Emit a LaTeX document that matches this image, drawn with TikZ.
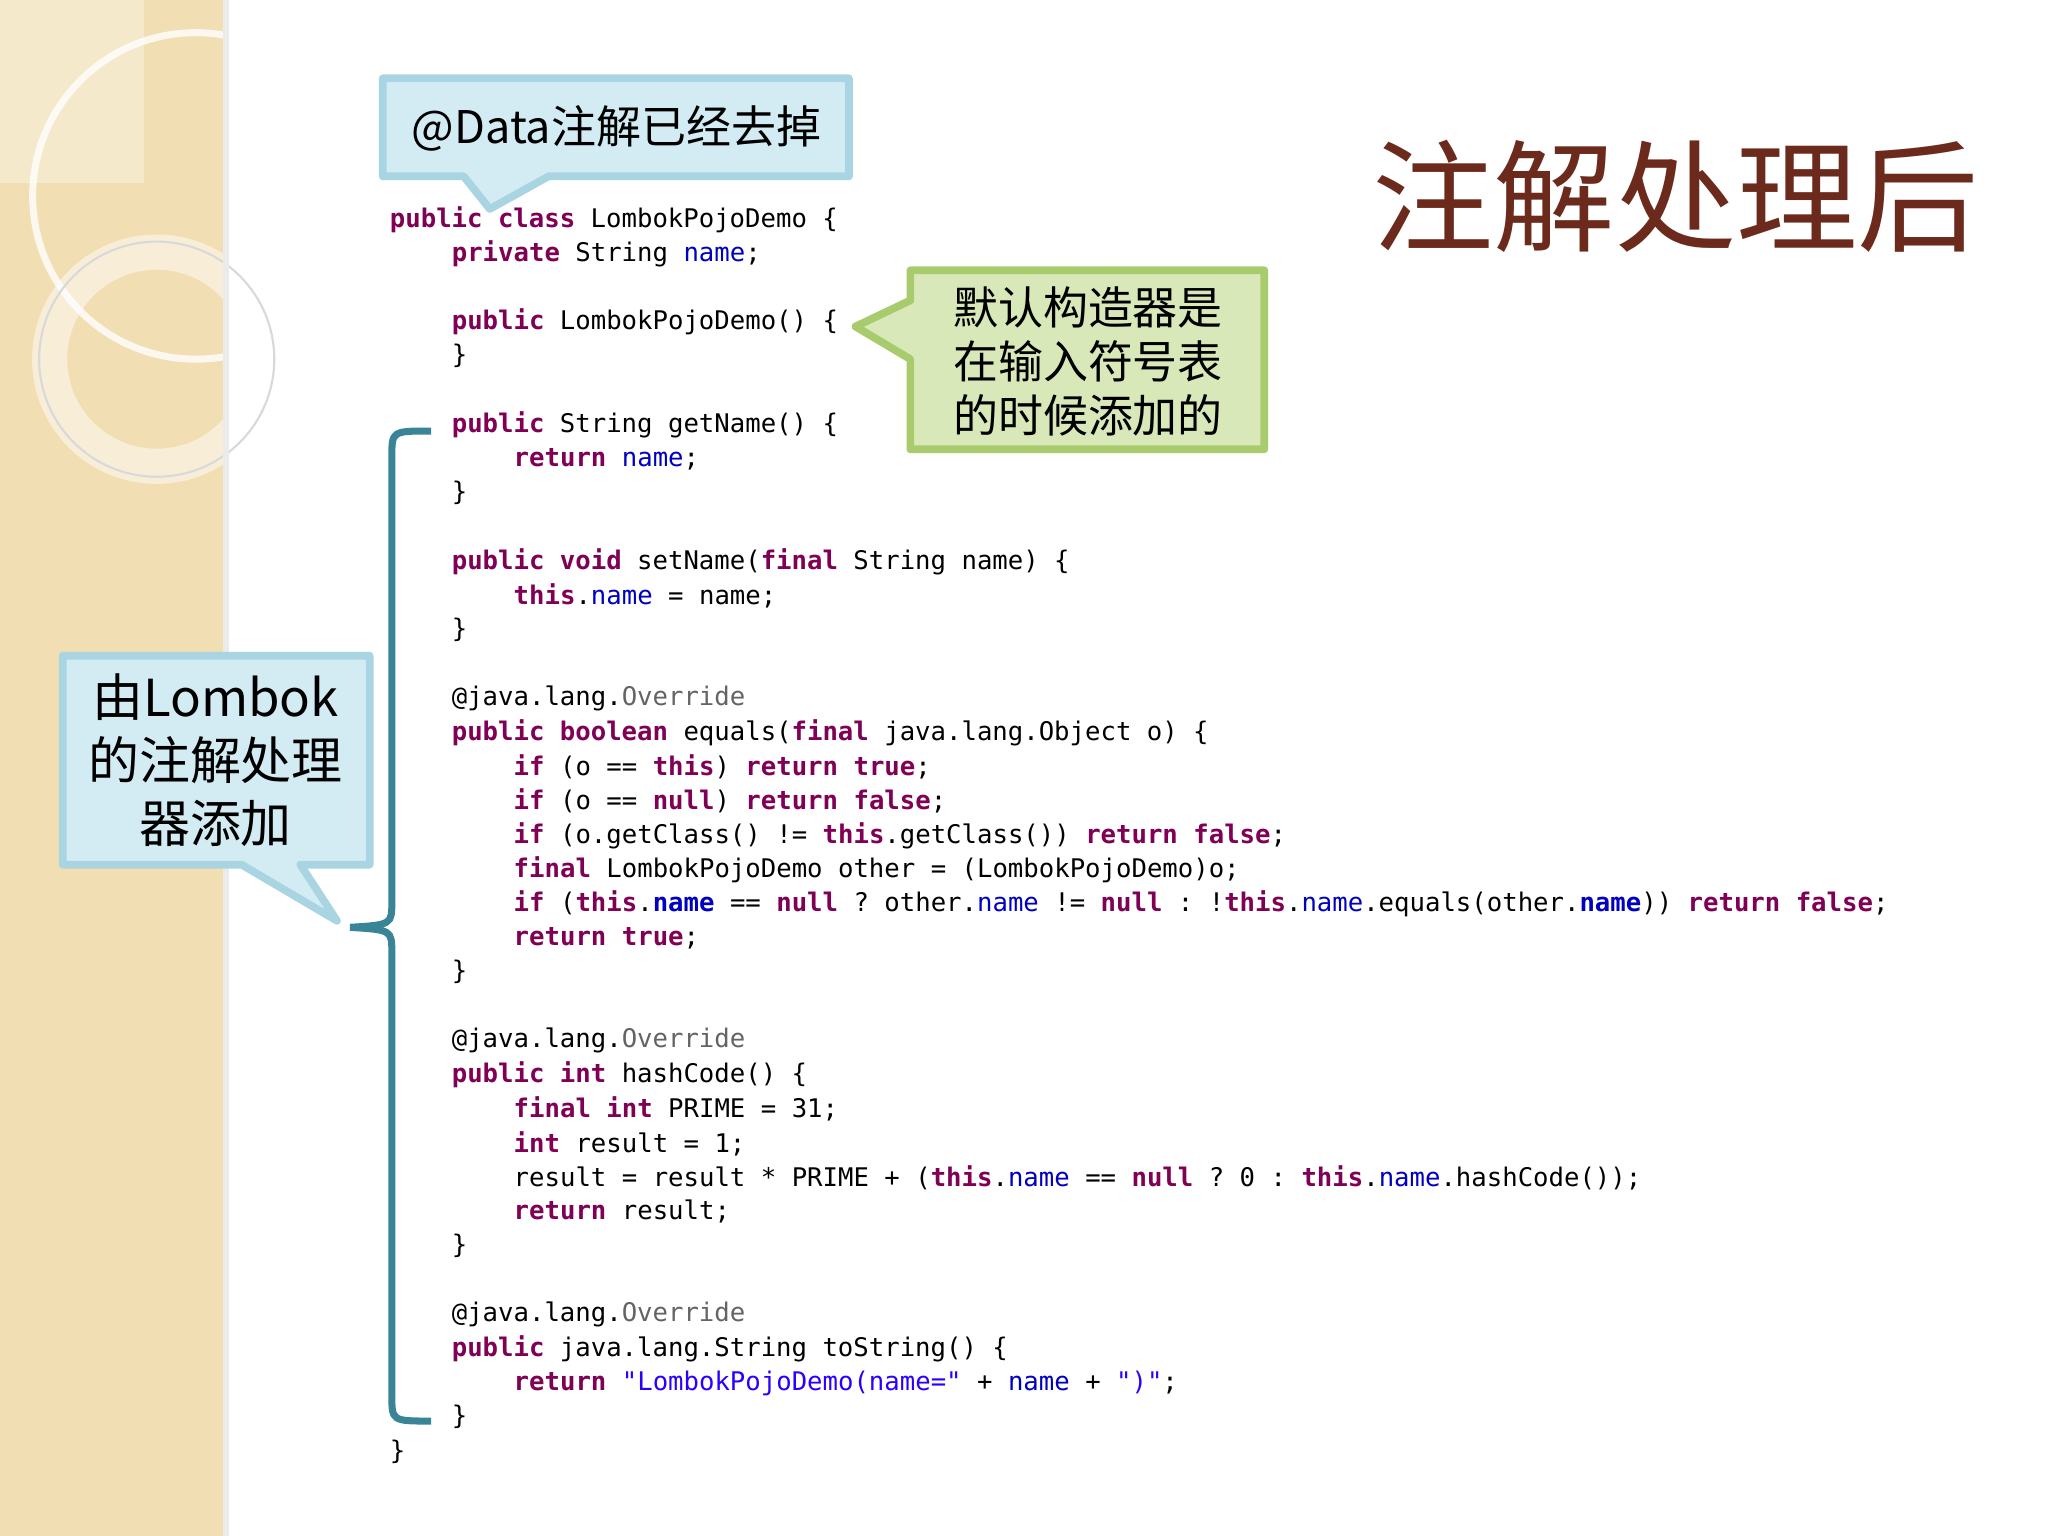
\documentclass[tikz,border=0pt]{standalone}
\usepackage{fontspec}
\setmonofont{DejaVu Sans Mono}
\newfontfamily\cjk{Noto Sans CJK SC}
\definecolor{kwc}{HTML}{7F0055}
\definecolor{fdc}{HTML}{0000C0}
\definecolor{stc}{HTML}{2A00FF}
\definecolor{anc}{HTML}{646464}
\definecolor{titc}{HTML}{6B2A1C}
\definecolor{beige}{HTML}{F1DEB2}
\definecolor{bluef}{HTML}{D3ECF4}
\definecolor{blueb}{HTML}{A9D5E3}
\definecolor{greenf}{HTML}{D9E8B9}
\definecolor{greenb}{HTML}{A8CB6E}
\definecolor{bracec}{HTML}{3A8497}
\newcommand\kw[1]{\textcolor{kwc}{\bfseries #1}}
\newcommand\fd[1]{\textcolor{fdc}{#1}}
\newcommand\sq[1]{\textcolor{stc}{#1}}
\newcommand\an[1]{\textcolor{anc}{#1}}
\newcommand\cl[3]{\node[code] (l#2) at ({298+11.85*#1},{168+26.2*(#2-1)}) {#3};}
\tikzset{code/.style={anchor=west,inner sep=0pt,font=\ttfamily\fontsize{7.3}{8}\selectfont},
callb/.style={draw=blueb,line width=2.2pt,fill=bluef,line join=round},
callg/.style={draw=greenb,line width=2.2pt,fill=greenf,line join=round},
ctext/.style={font=\cjk\fontsize{12.8}{15.4}\selectfont,align=center,inner sep=0pt}}
\begin{document}
\begin{tikzpicture}[x=0.013061cm,y=-0.013061cm]
\useasboundingbox (0,0) rectangle (1568,1176);
\fill[white] (0,0) rectangle (1568,1176);
% left strip
\fill[beige] (0,0) rectangle (173,1176);
\fill[white,opacity=0.35] (0,0) rectangle (110,140);
\draw[white,opacity=0.8,line width=2pt] (150,150) circle (125);
\draw[white,opacity=0.5,line width=10pt] (120,275) circle (82);
\draw[black!15,line width=0.6pt] (120,275) circle (90);
\fill[black!8] (171,0) rectangle (175,1176);
% title
\node[font=\cjk\fontsize{34.5}{36}\selectfont,text=titc,anchor=center] (title) at (1283,150) {注解处理后};
% callout 1
\filldraw[callb] (293,60) -- (650,60) -- (650,135) -- (420,135) -- (375,160) -- (355,135) -- (293,135) -- cycle;
\node[ctext] (c1) at (472,98) {@Data注解已经去掉};
% callout 2
\filldraw[callg] (697,207) -- (968,207) -- (968,344) -- (697,344) -- (697,275) -- (655,250) -- (697,230) -- cycle;
\node[ctext] (c2) at (833,277) {默认构造器是\\在输入符号表\\的时候添加的};
% callout 3
\filldraw[callb] (48,502) -- (283,502) -- (283,662) -- (230,662) -- (258,705) -- (185,662) -- (48,662) -- cycle;
\node[ctext,font=\cjk\fontsize{14.5}{17.8}\selectfont] (c3) at (165,582) {由Lombok\\的注解处理\\器添加};
% brace
\coordinate (b1) at (330,330);
\coordinate (b2) at (268,710);
\coordinate (b3) at (330,1088);
\draw[bracec,line width=2pt] (b1) .. controls (300,330) .. (300,350) -- (300,690) .. controls (300,708) .. (b2) .. controls (300,712) .. (300,730) -- (300,1068) .. controls (300,1088) .. (b3);
% code
\cl{0}{1}{\kw{public} \kw{class} LombokPojoDemo \{}
\cl{4}{2}{\kw{private} String \fd{name};}
\cl{4}{4}{\kw{public} LombokPojoDemo() \{}
\cl{4}{5}{\}}
\cl{4}{7}{\kw{public} String getName() \{}
\cl{8}{8}{\kw{return} \fd{name};}
\cl{4}{9}{\}}
\cl{4}{11}{\kw{public} \kw{void} setName(\kw{final} String name) \{}
\cl{8}{12}{\kw{this}.\fd{name} = name;}
\cl{4}{13}{\}}
\cl{4}{15}{@java.lang.\an{Override}}
\cl{4}{16}{\kw{public} \kw{boolean} equals(\kw{final} java.lang.Object o) \{}
\cl{8}{17}{\kw{if} (o == \kw{this}) \kw{return} \kw{true};}
\cl{8}{18}{\kw{if} (o == \kw{null}) \kw{return} \kw{false};}
\cl{8}{19}{\kw{if} (o.getClass() != \kw{this}.getClass()) \kw{return} \kw{false};}
\cl{8}{20}{\kw{final} LombokPojoDemo other = (LombokPojoDemo)o;}
\cl{8}{21}{\kw{if} (\kw{this}.\fd{\bfseries name} == \kw{null} ? other.\fd{name} != \kw{null} : !\kw{this}.\fd{name}.equals(other.\fd{\bfseries name})) \kw{return} \kw{false};}
\cl{8}{22}{\kw{return} \kw{true};}
\cl{4}{23}{\}}
\cl{4}{25}{@java.lang.\an{Override}}
\cl{4}{26}{\kw{public} \kw{int} hashCode() \{}
\cl{8}{27}{\kw{final} \kw{int} PRIME = 31;}
\cl{8}{28}{\kw{int} result = 1;}
\cl{8}{29}{result = result * PRIME + (\kw{this}.\fd{name} == \kw{null} ? 0 : \kw{this}.\fd{name}.hashCode());}
\cl{8}{30}{\kw{return} result;}
\cl{4}{31}{\}}
\cl{4}{33}{@java.lang.\an{Override}}
\cl{4}{34}{\kw{public} java.lang.String toString() \{}
\cl{8}{35}{\kw{return} \sq{"LombokPojoDemo(name="} + \fd{name} + \sq{")"};}
\cl{4}{36}{\}}
\cl{0}{37}{\}}
\end{tikzpicture}
\end{document}
